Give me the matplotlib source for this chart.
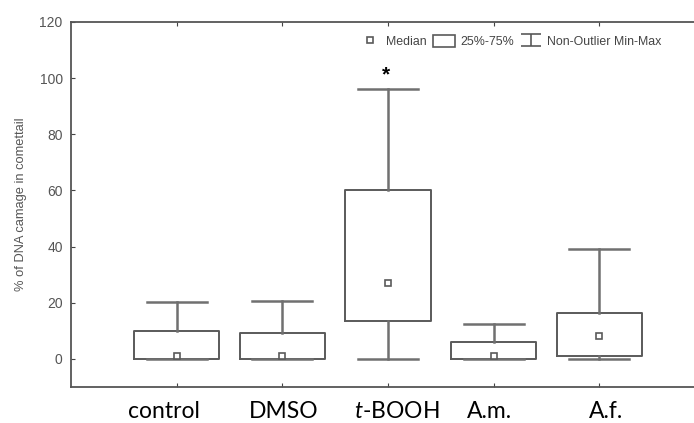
import numpy as np
import matplotlib.pyplot as plt
from matplotlib.lines import Line2D
from matplotlib.patches import Patch
from matplotlib.path import Path

plt.rcParams['font.family'] = ['Liberation Sans', 'DejaVu Sans']
plt.rcParams['mathtext.fontset'] = 'custom'
plt.rcParams['mathtext.it'] = 'Lato:italic'
plt.rcParams['mathtext.rm'] = 'Lato'

# dane
grupy = ['control', 'DMSO', '$t$-BOOH', 'A.m.', 'A.f.']
mediany = [1, 1, 27, 1, 8]
q1 = [0, 0, 13.5, 0, 1]
q3 = [10, 9.2, 60, 6, 16.5]
w_min = [0, 0, 0, 0, 0]
w_max = [20.4, 20.7, 96, 12.5, 39]

kolor = '#5a5a5a'

fig = plt.figure(figsize=(6.94, 4.23), dpi=100)
ax = fig.add_axes([71 / 694, 36 / 423, 634 / 694, 365 / 423])

pozycje = np.arange(1, len(grupy) + 1)
staty = []
for i in range(len(grupy)):
    staty.append({'med': mediany[i], 'q1': q1[i], 'q3': q3[i],
                  'whislo': w_min[i], 'whishi': w_max[i], 'fliers': []})

ax.bxp(staty, positions=pozycje, widths=0.81, capwidths=0.57,
       boxprops=dict(color=kolor, lw=1.4),
       whiskerprops=dict(color='#707070', lw=1.8),
       capprops=dict(color='#707070', lw=1.8),
       medianprops=dict(lw=0))
ax.plot(pozycje, mediany, 's', ls='none', ms=5, mfc='white', mec=kolor, mew=1.2, zorder=5)

ax.text(3 - 0.02, 101, '*', ha='center', va='center', fontsize=15, fontweight='bold', color='black')

ax.set_xlim(0, 6)
ax.set_ylim(-10, 120)
ax.set_yticks(np.arange(0, 121, 20))
ax.set_xticks(pozycje)
ax.set_xticklabels([])
ax.tick_params(axis='x', direction='in', length=3, color='#444444', top=True)
ax.tick_params(axis='y', direction='in', length=3, color='#444444', labelsize=10,
               labelcolor='#555555', pad=6)
for s in ['left', 'bottom', 'top']:
    ax.spines[s].set_color('#555555')
    ax.spines[s].set_linewidth(1.3)
ax.spines['right'].set_visible(False)

ax.set_ylabel('% of DNA camage in comettail', fontsize=9.3, color='#555555', labelpad=9)

# podpisy grup
x_podpis = [0.88, 2.01, 3.08, 3.96, 5.06]
for x, g in zip(x_podpis, grupy):
    ax.text(x, -0.066, g, transform=ax.get_xaxis_transform(), ha='center', va='center',
            fontsize=16.5, family='Lato', color='black')

# legenda
wasy = Path([(-1, 0.6), (1, 0.6), (0, 0.6), (0, -0.6), (-1, -0.6), (1, -0.6)],
            [Path.MOVETO, Path.LINETO, Path.MOVETO, Path.LINETO, Path.MOVETO, Path.LINETO])
uchwyty = [Line2D([], [], marker='s', ls='none', ms=5, mfc='white', mec=kolor, mew=1.2),
           Patch(facecolor='white', edgecolor=kolor, lw=1.2),
           Line2D([], [], marker=wasy, ls='none', ms=14, mfc='none', mec=kolor, mew=1.2)]
ax.legend(uchwyty, ['Median', '25%-75%', 'Non-Outlier Min-Max'], ncol=3, frameon=False,
          loc='upper right', bbox_to_anchor=(0.9416, 0.982), borderpad=0, fontsize=8.9,
          handlelength=1.8, handleheight=1.1, handletextpad=0.4, columnspacing=0.5,
          labelcolor='#444444')

fig.savefig('out.png', dpi=100)
